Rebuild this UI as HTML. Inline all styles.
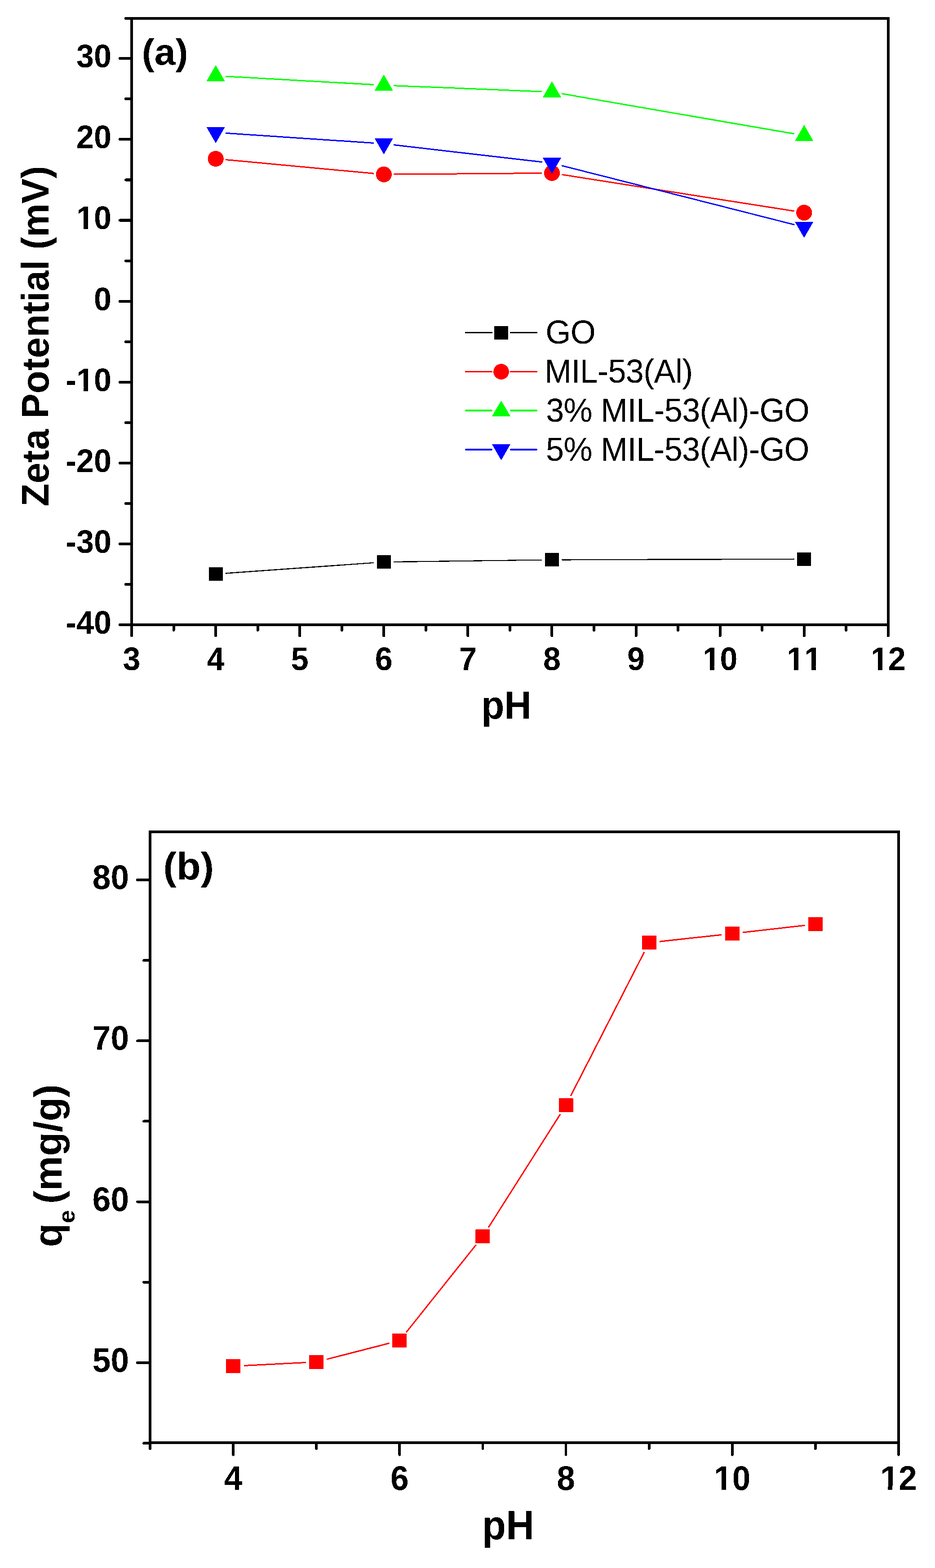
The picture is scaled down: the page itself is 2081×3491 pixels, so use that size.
<!DOCTYPE html>
<html><head><meta charset="utf-8"><title>Zeta potential and q_e vs pH</title>
<style>html,body{margin:0;padding:0;background:#fff}svg{display:block}text{font-family:"Liberation Sans", Arial, sans-serif;fill:#000;font-kerning:none;font-feature-settings:"kern" 0}</style>
</head><body>
<svg width="2081" height="3491" viewBox="0 0 2081 3491">
<defs><filter id="bin" x="0" y="0" width="2081" height="3491" filterUnits="userSpaceOnUse" color-interpolation-filters="sRGB"><feComponentTransfer><feFuncR type="discrete" tableValues="0 1"/><feFuncG type="discrete" tableValues="0 1"/><feFuncB type="discrete" tableValues="0 1"/></feComponentTransfer></filter></defs>
<g filter="url(#bin)">
<rect x="0" y="0" width="2081" height="3491" fill="#fff"/>
<rect x="293" y="41" width="1683.8" height="1350" fill="none" stroke="#000" stroke-width="6"/>
<line x1="293.00" y1="1391.00" x2="266.70" y2="1391.00" stroke="#000" stroke-width="6" stroke-linecap="round"/>
<line x1="293.00" y1="1301.00" x2="280.00" y2="1301.00" stroke="#000" stroke-width="6" stroke-linecap="round"/>
<line x1="293.00" y1="1211.00" x2="266.70" y2="1211.00" stroke="#000" stroke-width="6" stroke-linecap="round"/>
<line x1="293.00" y1="1121.00" x2="280.00" y2="1121.00" stroke="#000" stroke-width="6" stroke-linecap="round"/>
<line x1="293.00" y1="1031.00" x2="266.70" y2="1031.00" stroke="#000" stroke-width="6" stroke-linecap="round"/>
<line x1="293.00" y1="941.00" x2="280.00" y2="941.00" stroke="#000" stroke-width="6" stroke-linecap="round"/>
<line x1="293.00" y1="851.00" x2="266.70" y2="851.00" stroke="#000" stroke-width="6" stroke-linecap="round"/>
<line x1="293.00" y1="761.00" x2="280.00" y2="761.00" stroke="#000" stroke-width="6" stroke-linecap="round"/>
<line x1="293.00" y1="671.00" x2="266.70" y2="671.00" stroke="#000" stroke-width="6" stroke-linecap="round"/>
<line x1="293.00" y1="580.80" x2="280.00" y2="580.80" stroke="#000" stroke-width="6" stroke-linecap="round"/>
<line x1="293.00" y1="490.60" x2="266.70" y2="490.60" stroke="#000" stroke-width="6" stroke-linecap="round"/>
<line x1="293.00" y1="400.40" x2="280.00" y2="400.40" stroke="#000" stroke-width="6" stroke-linecap="round"/>
<line x1="293.00" y1="310.20" x2="266.70" y2="310.20" stroke="#000" stroke-width="6" stroke-linecap="round"/>
<line x1="293.00" y1="220.00" x2="280.00" y2="220.00" stroke="#000" stroke-width="6" stroke-linecap="round"/>
<line x1="293.00" y1="129.80" x2="266.70" y2="129.80" stroke="#000" stroke-width="6" stroke-linecap="round"/>
<line x1="293.00" y1="41.00" x2="280.00" y2="41.00" stroke="#000" stroke-width="6" stroke-linecap="round"/>
<line x1="293.00" y1="1391.00" x2="293.00" y2="1415.60" stroke="#000" stroke-width="6" stroke-linecap="round"/>
<line x1="386.54" y1="1391.00" x2="386.54" y2="1403.00" stroke="#000" stroke-width="6" stroke-linecap="round"/>
<line x1="480.09" y1="1391.00" x2="480.09" y2="1415.60" stroke="#000" stroke-width="6" stroke-linecap="round"/>
<line x1="573.63" y1="1391.00" x2="573.63" y2="1403.00" stroke="#000" stroke-width="6" stroke-linecap="round"/>
<line x1="667.18" y1="1391.00" x2="667.18" y2="1415.60" stroke="#000" stroke-width="6" stroke-linecap="round"/>
<line x1="760.72" y1="1391.00" x2="760.72" y2="1403.00" stroke="#000" stroke-width="6" stroke-linecap="round"/>
<line x1="854.27" y1="1391.00" x2="854.27" y2="1415.60" stroke="#000" stroke-width="6" stroke-linecap="round"/>
<line x1="947.81" y1="1391.00" x2="947.81" y2="1403.00" stroke="#000" stroke-width="6" stroke-linecap="round"/>
<line x1="1041.36" y1="1391.00" x2="1041.36" y2="1415.60" stroke="#000" stroke-width="6" stroke-linecap="round"/>
<line x1="1134.90" y1="1391.00" x2="1134.90" y2="1403.00" stroke="#000" stroke-width="6" stroke-linecap="round"/>
<line x1="1228.44" y1="1391.00" x2="1228.44" y2="1415.60" stroke="#000" stroke-width="6" stroke-linecap="round"/>
<line x1="1321.99" y1="1391.00" x2="1321.99" y2="1403.00" stroke="#000" stroke-width="6" stroke-linecap="round"/>
<line x1="1415.53" y1="1391.00" x2="1415.53" y2="1415.60" stroke="#000" stroke-width="6" stroke-linecap="round"/>
<line x1="1509.08" y1="1391.00" x2="1509.08" y2="1403.00" stroke="#000" stroke-width="6" stroke-linecap="round"/>
<line x1="1602.62" y1="1391.00" x2="1602.62" y2="1415.60" stroke="#000" stroke-width="6" stroke-linecap="round"/>
<line x1="1696.17" y1="1391.00" x2="1696.17" y2="1403.00" stroke="#000" stroke-width="6" stroke-linecap="round"/>
<line x1="1789.71" y1="1391.00" x2="1789.71" y2="1415.60" stroke="#000" stroke-width="6" stroke-linecap="round"/>
<line x1="1883.26" y1="1391.00" x2="1883.26" y2="1403.00" stroke="#000" stroke-width="6" stroke-linecap="round"/>
<line x1="1976.80" y1="1391.00" x2="1976.80" y2="1415.60" stroke="#000" stroke-width="6" stroke-linecap="round"/>
<text transform="translate(146.70,1410.80) scale(1,1.04)" x="0" y="0" font-size="70" font-weight="bold" text-anchor="start">-40</text>
<text transform="translate(146.70,1230.80) scale(1,1.04)" x="0" y="0" font-size="70" font-weight="bold" text-anchor="start">-30</text>
<text transform="translate(146.70,1050.80) scale(1,1.04)" x="0" y="0" font-size="70" font-weight="bold" text-anchor="start">-20</text>
<text transform="translate(146.70,870.80) scale(1,1.04)" x="0" y="0" font-size="70" font-weight="bold" text-anchor="start">-10</text>
<text transform="translate(208.94,690.80) scale(1,1.04)" x="0" y="0" font-size="70" font-weight="bold" text-anchor="start">0</text>
<text transform="translate(170.01,510.40) scale(1,1.04)" x="0" y="0" font-size="70" font-weight="bold" text-anchor="start">10</text>
<text transform="translate(170.01,330.00) scale(1,1.04)" x="0" y="0" font-size="70" font-weight="bold" text-anchor="start">20</text>
<text transform="translate(170.01,149.60) scale(1,1.04)" x="0" y="0" font-size="70" font-weight="bold" text-anchor="start">30</text>
<text transform="translate(273.53,1492.20) scale(1,1.04)" x="0" y="0" font-size="70" font-weight="bold" text-anchor="start">3</text>
<text transform="translate(460.62,1492.20) scale(1,1.04)" x="0" y="0" font-size="70" font-weight="bold" text-anchor="start">4</text>
<text transform="translate(647.71,1492.20) scale(1,1.04)" x="0" y="0" font-size="70" font-weight="bold" text-anchor="start">5</text>
<text transform="translate(834.80,1492.20) scale(1,1.04)" x="0" y="0" font-size="70" font-weight="bold" text-anchor="start">6</text>
<text transform="translate(1021.89,1492.20) scale(1,1.04)" x="0" y="0" font-size="70" font-weight="bold" text-anchor="start">7</text>
<text transform="translate(1208.98,1492.20) scale(1,1.04)" x="0" y="0" font-size="70" font-weight="bold" text-anchor="start">8</text>
<text transform="translate(1396.07,1492.20) scale(1,1.04)" x="0" y="0" font-size="70" font-weight="bold" text-anchor="start">9</text>
<text transform="translate(1563.69,1492.20) scale(1,1.04)" x="0" y="0" font-size="70" font-weight="bold" text-anchor="start">10</text>
<text transform="translate(1750.78,1492.20) scale(1,1.04)" x="0" y="0" font-size="70" font-weight="bold" text-anchor="start">11</text>
<text transform="translate(1937.87,1492.20) scale(1,1.04)" x="0" y="0" font-size="70" font-weight="bold" text-anchor="start">12</text>
<text transform="translate(1071.29,1599.90) scale(1,1.04)" x="0" y="0" font-size="83.6" font-weight="bold" text-anchor="start">pH</text>
<g transform="translate(108,1127.39) rotate(-90)"><text transform="translate(0.00,0.00) scale(1,1.02)" x="0" y="0" font-size="83.7" font-weight="bold" text-anchor="start">Zeta Potential (mV)</text></g>
<text transform="translate(315.72,143.70) scale(1,0.98)" x="0" y="0" font-size="84" font-weight="bold" text-anchor="start">(a)</text>
<line x1="502.03" y1="1276.43" x2="832.32" y2="1252.87" stroke="#000" stroke-width="2.4" stroke-linecap="butt"/>
<line x1="876.26" y1="1251.01" x2="1206.45" y2="1246.59" stroke="#000" stroke-width="2.4" stroke-linecap="butt"/>
<line x1="1250.44" y1="1246.24" x2="1767.71" y2="1244.76" stroke="#000" stroke-width="2.4" stroke-linecap="butt"/>
<line x1="501.99" y1="355.54" x2="832.36" y2="386.26" stroke="#f00" stroke-width="3.0" stroke-linecap="butt"/>
<line x1="876.27" y1="388.12" x2="1206.45" y2="385.38" stroke="#f00" stroke-width="3.0" stroke-linecap="butt"/>
<line x1="1250.18" y1="388.62" x2="1767.98" y2="469.98" stroke="#f00" stroke-width="3.0" stroke-linecap="butt"/>
<line x1="502.05" y1="170.03" x2="832.30" y2="188.57" stroke="#0f0" stroke-width="3.0" stroke-linecap="butt"/>
<line x1="876.25" y1="190.68" x2="1206.46" y2="203.92" stroke="#0f0" stroke-width="3.0" stroke-linecap="butt"/>
<line x1="1250.12" y1="208.55" x2="1768.03" y2="298.05" stroke="#0f0" stroke-width="3.0" stroke-linecap="butt"/>
<line x1="502.04" y1="296.37" x2="832.32" y2="318.53" stroke="#00f" stroke-width="3.0" stroke-linecap="butt"/>
<line x1="876.12" y1="322.52" x2="1206.59" y2="360.68" stroke="#00f" stroke-width="3.0" stroke-linecap="butt"/>
<line x1="1249.77" y1="368.62" x2="1768.39" y2="500.38" stroke="#00f" stroke-width="3.0" stroke-linecap="butt"/>
<rect x="464.59" y="1263.00" width="31" height="30" fill="#000"/>
<rect x="838.77" y="1236.30" width="31" height="30" fill="#000"/>
<rect x="1212.94" y="1231.30" width="31" height="30" fill="#000"/>
<rect x="1774.21" y="1229.70" width="31" height="30" fill="#000"/>
<circle cx="480.09" cy="353.50" r="17.6" fill="#f00"/>
<circle cx="854.27" cy="388.30" r="17.6" fill="#f00"/>
<circle cx="1228.44" cy="385.20" r="17.6" fill="#f00"/>
<circle cx="1789.71" cy="473.40" r="17.6" fill="#f00"/>
<polygon points="480.09,145.00 500.59,180.70 459.59,180.70" fill="#0f0"/>
<polygon points="854.27,166.00 874.77,201.70 833.77,201.70" fill="#0f0"/>
<polygon points="1228.44,181.00 1248.94,216.70 1207.94,216.70" fill="#0f0"/>
<polygon points="1789.71,278.00 1810.21,313.70 1769.21,313.70" fill="#0f0"/>
<polygon points="459.59,283.00 500.59,283.00 480.09,318.70" fill="#00f"/>
<polygon points="833.77,308.10 874.77,308.10 854.27,343.80" fill="#00f"/>
<polygon points="1207.94,351.30 1248.94,351.30 1228.44,387.00" fill="#00f"/>
<polygon points="1769.21,493.90 1810.21,493.90 1789.71,529.60" fill="#00f"/>
<line x1="1035.20" y1="740.40" x2="1095.80" y2="740.40" stroke="#000" stroke-width="3.0" stroke-linecap="butt"/>
<line x1="1135.20" y1="740.40" x2="1195.90" y2="740.40" stroke="#000" stroke-width="3.0" stroke-linecap="butt"/>
<rect x="1100.00" y="725.90" width="31" height="30" fill="#000"/>
<text transform="translate(1214.28,765.30) scale(1,1.03)" x="0" y="0" font-size="72" font-weight="normal" text-anchor="start" letter-spacing="-0.63">GO</text>
<line x1="1035.20" y1="827.50" x2="1095.80" y2="827.50" stroke="#f00" stroke-width="3.0" stroke-linecap="butt"/>
<line x1="1135.20" y1="827.50" x2="1195.90" y2="827.50" stroke="#f00" stroke-width="3.0" stroke-linecap="butt"/>
<circle cx="1115.50" cy="827.50" r="17.3" fill="#f00"/>
<text transform="translate(1211.99,852.30) scale(1,1.03)" x="0" y="0" font-size="72" font-weight="normal" text-anchor="start" letter-spacing="-0.63">MIL-53(Al)</text>
<line x1="1035.20" y1="914.00" x2="1095.80" y2="914.00" stroke="#0f0" stroke-width="3.0" stroke-linecap="butt"/>
<line x1="1135.20" y1="914.00" x2="1195.90" y2="914.00" stroke="#0f0" stroke-width="3.0" stroke-linecap="butt"/>
<polygon points="1115.50,891.90 1136.20,926.70 1094.80,926.70" fill="#0f0"/>
<text transform="translate(1215.16,939.30) scale(1,1.03)" x="0" y="0" font-size="72" font-weight="normal" text-anchor="start" letter-spacing="-0.63">3% MIL-53(Al)-GO</text>
<line x1="1035.20" y1="1001.10" x2="1095.80" y2="1001.10" stroke="#00f" stroke-width="3.0" stroke-linecap="butt"/>
<line x1="1135.20" y1="1001.10" x2="1195.90" y2="1001.10" stroke="#00f" stroke-width="3.0" stroke-linecap="butt"/>
<polygon points="1094.80,988.80 1136.20,988.80 1115.50,1024.80" fill="#00f"/>
<text transform="translate(1215.02,1026.30) scale(1,1.03)" x="0" y="0" font-size="72" font-weight="normal" text-anchor="start" letter-spacing="-0.63">5% MIL-53(Al)-GO</text>
<rect x="334" y="1852" width="1666" height="1360" fill="none" stroke="#000" stroke-width="5.8"/>
<line x1="334.00" y1="3213.05" x2="320.00" y2="3213.05" stroke="#000" stroke-width="5.8" stroke-linecap="round"/>
<line x1="334.00" y1="3033.90" x2="306.00" y2="3033.90" stroke="#000" stroke-width="5.8" stroke-linecap="round"/>
<line x1="334.00" y1="2854.75" x2="320.00" y2="2854.75" stroke="#000" stroke-width="5.8" stroke-linecap="round"/>
<line x1="334.00" y1="2675.60" x2="306.00" y2="2675.60" stroke="#000" stroke-width="5.8" stroke-linecap="round"/>
<line x1="334.00" y1="2496.45" x2="320.00" y2="2496.45" stroke="#000" stroke-width="5.8" stroke-linecap="round"/>
<line x1="334.00" y1="2317.30" x2="306.00" y2="2317.30" stroke="#000" stroke-width="5.8" stroke-linecap="round"/>
<line x1="334.00" y1="2138.15" x2="320.00" y2="2138.15" stroke="#000" stroke-width="5.8" stroke-linecap="round"/>
<line x1="334.00" y1="1959.00" x2="306.00" y2="1959.00" stroke="#000" stroke-width="5.8" stroke-linecap="round"/>
<line x1="334.00" y1="3212.00" x2="334.00" y2="3225.00" stroke="#000" stroke-width="5.8" stroke-linecap="round"/>
<line x1="519.11" y1="3212.00" x2="519.11" y2="3238.70" stroke="#000" stroke-width="5.8" stroke-linecap="round"/>
<line x1="704.22" y1="3212.00" x2="704.22" y2="3225.00" stroke="#000" stroke-width="5.8" stroke-linecap="round"/>
<line x1="889.33" y1="3212.00" x2="889.33" y2="3238.70" stroke="#000" stroke-width="5.8" stroke-linecap="round"/>
<line x1="1074.44" y1="3212.00" x2="1074.44" y2="3225.00" stroke="#000" stroke-width="5.8" stroke-linecap="round"/>
<line x1="1259.56" y1="3212.00" x2="1259.56" y2="3238.70" stroke="#000" stroke-width="5.8" stroke-linecap="round"/>
<line x1="1444.67" y1="3212.00" x2="1444.67" y2="3225.00" stroke="#000" stroke-width="5.8" stroke-linecap="round"/>
<line x1="1629.78" y1="3212.00" x2="1629.78" y2="3238.70" stroke="#000" stroke-width="5.8" stroke-linecap="round"/>
<line x1="1814.89" y1="3212.00" x2="1814.89" y2="3225.00" stroke="#000" stroke-width="5.8" stroke-linecap="round"/>
<line x1="2000.00" y1="3212.00" x2="2000.00" y2="3238.70" stroke="#000" stroke-width="5.8" stroke-linecap="round"/>
<text transform="translate(205.80,3053.90) scale(1,1.037)" x="0" y="0" font-size="73" font-weight="bold" text-anchor="start">50</text>
<text transform="translate(205.80,2695.60) scale(1,1.037)" x="0" y="0" font-size="73" font-weight="bold" text-anchor="start">60</text>
<text transform="translate(205.80,2337.30) scale(1,1.037)" x="0" y="0" font-size="73" font-weight="bold" text-anchor="start">70</text>
<text transform="translate(205.80,1979.00) scale(1,1.037)" x="0" y="0" font-size="73" font-weight="bold" text-anchor="start">80</text>
<text transform="translate(498.81,3317.30) scale(1,1.037)" x="0" y="0" font-size="73" font-weight="bold" text-anchor="start">4</text>
<text transform="translate(869.03,3317.30) scale(1,1.037)" x="0" y="0" font-size="73" font-weight="bold" text-anchor="start">6</text>
<text transform="translate(1239.26,3317.30) scale(1,1.037)" x="0" y="0" font-size="73" font-weight="bold" text-anchor="start">8</text>
<text transform="translate(1589.18,3317.30) scale(1,1.037)" x="0" y="0" font-size="73" font-weight="bold" text-anchor="start">10</text>
<text transform="translate(1959.40,3317.30) scale(1,1.037)" x="0" y="0" font-size="73" font-weight="bold" text-anchor="start">12</text>
<text transform="translate(1073.07,3427.00) scale(1,1.04)" x="0" y="0" font-size="86.9" font-weight="bold" text-anchor="start">pH</text>
<g transform="translate(136.8,2776.6) rotate(-90)"><text x="0" y="0" font-size="87" font-weight="bold">q</text><text x="53.4" y="29.6" font-size="52" font-weight="bold">e</text><text x="96.7" y="0" font-size="87" font-weight="bold">(mg/g)</text></g>
<text transform="translate(363.62,1957.70) scale(1,0.97)" x="0" y="0" font-size="88" font-weight="bold" text-anchor="start">(b)</text>
<line x1="542.58" y1="3040.50" x2="680.75" y2="3033.40" stroke="#f00" stroke-width="3.0" stroke-linecap="butt"/>
<line x1="726.98" y1="3026.36" x2="866.57" y2="2990.54" stroke="#f00" stroke-width="3.0" stroke-linecap="butt"/>
<line x1="903.99" y1="2966.33" x2="1059.78" y2="2771.17" stroke="#f00" stroke-width="3.0" stroke-linecap="butt"/>
<line x1="1087.03" y1="2732.95" x2="1246.97" y2="2480.65" stroke="#f00" stroke-width="3.0" stroke-linecap="butt"/>
<line x1="1270.25" y1="2439.88" x2="1433.97" y2="2119.62" stroke="#f00" stroke-width="3.0" stroke-linecap="butt"/>
<line x1="1468.03" y1="2096.16" x2="1606.42" y2="2081.14" stroke="#f00" stroke-width="3.0" stroke-linecap="butt"/>
<line x1="1653.13" y1="2075.94" x2="1791.54" y2="2060.16" stroke="#f00" stroke-width="3.0" stroke-linecap="butt"/>
<rect x="503.11" y="3026.20" width="32" height="31" fill="#f00"/>
<rect x="688.22" y="3016.70" width="32" height="31" fill="#f00"/>
<rect x="873.33" y="2969.20" width="32" height="31" fill="#f00"/>
<rect x="1058.44" y="2737.30" width="32" height="31" fill="#f00"/>
<rect x="1243.56" y="2445.30" width="32" height="31" fill="#f00"/>
<rect x="1428.67" y="2083.20" width="32" height="31" fill="#f00"/>
<rect x="1613.78" y="2063.10" width="32" height="31" fill="#f00"/>
<rect x="1798.89" y="2042.00" width="32" height="31" fill="#f00"/>
<rect x="173.42" y="861.77" width="12.93" height="10.23" fill="#fff"/>
<rect x="195.95" y="861.77" width="12.04" height="10.23" fill="#fff"/>
<rect x="173.42" y="501.37" width="12.93" height="10.23" fill="#fff"/>
<rect x="195.95" y="501.37" width="12.04" height="10.23" fill="#fff"/>
<rect x="1567.10" y="1483.17" width="12.93" height="10.23" fill="#fff"/>
<rect x="1589.63" y="1483.17" width="12.04" height="10.23" fill="#fff"/>
<rect x="1754.19" y="1483.17" width="12.93" height="10.23" fill="#fff"/>
<rect x="1776.72" y="1483.17" width="12.04" height="10.23" fill="#fff"/>
<rect x="1793.12" y="1483.17" width="12.93" height="10.23" fill="#fff"/>
<rect x="1815.65" y="1483.17" width="12.04" height="10.23" fill="#fff"/>
<rect x="1941.28" y="1483.17" width="12.93" height="10.23" fill="#fff"/>
<rect x="1963.81" y="1483.17" width="12.04" height="10.23" fill="#fff"/>
<rect x="1592.78" y="3307.97" width="13.44" height="10.53" fill="#fff"/>
<rect x="1616.23" y="3307.97" width="12.51" height="10.53" fill="#fff"/>
<rect x="1963.00" y="3307.97" width="13.44" height="10.53" fill="#fff"/>
<rect x="1986.46" y="3307.97" width="12.51" height="10.53" fill="#fff"/>
</g>
</svg>
</body></html>
